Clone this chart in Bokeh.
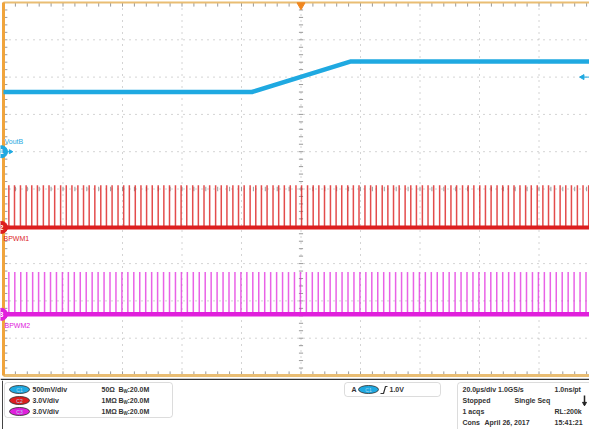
import numpy as np
from bokeh.plotting import figure
from bokeh.models import Range1d, BoxAnnotation
from bokeh.layouts import column
from bokeh.embed import file_html
from bokeh.resources import INLINE
from bokeh.core.properties import value

# ---------------- data ----------------
time_per_div_us = 20.0
n_hdiv = 10
n_vdiv = 10

ch1_name = "VoutB"
ch1_scale_v = 0.5          # V/div
ch1_pos_div = 1.0
ch1_time_us = [-100.0, -16.5, 16.8, 100.0]
ch1_volts = [0.80, 0.80, 1.21, 1.21]

ch2_name = "BPWM1"
ch2_scale_v = 3.0
ch2_pos_div = -1.03
ch2_low_v = 0.0
ch2_high_v = 3.4
ch2_pulse_us = [-98.2, -96.3, -94.3, -92.4, -90.5, -88.6, -86.6, -84.7, -82.8, -80.8,
                -78.9, -77.0, -75.0, -73.1, -71.2, -69.3, -67.3, -65.4, -63.5, -61.5,
                -59.6, -57.7, -55.7, -53.8, -51.9, -50.0, -48.0, -46.1, -44.2, -42.2,
                -40.3, -38.4, -36.4, -34.5, -32.6, -30.7, -28.7, -26.8, -24.9, -22.9,
                -21.0, -19.1, -17.1, -15.2, -13.3, -11.4, -9.4, -7.5, -5.6, -3.6,
                -1.7, 0.2, 2.2, 4.1, 6.0, 7.9, 9.9, 11.8, 13.7, 15.7,
                17.6, 19.5, 21.5, 23.4, 25.3, 27.3, 29.2, 31.1, 33.0, 35.0,
                36.9, 38.8, 40.8, 42.7, 44.6, 46.6, 48.5, 50.4, 52.3, 54.3,
                56.2, 58.1, 60.1, 62.0, 63.9, 65.9, 67.8, 69.7, 71.6, 73.6,
                75.5, 77.4, 79.4, 81.3, 83.2, 85.2, 87.1, 89.0, 90.9, 92.9,
                94.8, 96.7, 98.7]

ch3_name = "BPWM2"
ch3_scale_v = 3.0
ch3_pos_div = -3.36
ch3_low_v = 0.0
ch3_high_v = 3.4
ch3_pulse_us = [-98.2, -96.2, -94.2, -92.2, -90.2, -88.2, -86.2, -84.2, -82.2, -80.2,
                -78.2, -76.2, -74.2, -72.2, -70.2, -68.2, -66.2, -64.2, -62.2, -60.2,
                -58.2, -56.2, -54.2, -52.2, -50.2, -48.2, -46.2, -44.2, -42.2, -40.2,
                -38.2, -36.2, -34.2, -32.2, -30.2, -28.2, -26.2, -24.2, -22.2, -20.2,
                -18.2, -16.2, -14.2, -12.2, -10.2, -8.2, -6.2, -4.2, -2.2, -0.2,
                1.8, 3.8, 5.8, 7.8, 9.8, 11.8, 13.8, 15.8, 17.8, 19.8,
                21.8, 23.8, 25.8, 27.8, 29.8, 31.8, 33.8, 35.8, 37.8, 39.8,
                41.8, 43.8, 45.8, 47.8, 49.8, 51.8, 53.8, 55.8, 57.8, 59.8,
                61.8, 63.8, 65.8, 67.8, 69.8, 71.8, 73.8, 75.8, 77.8, 79.8,
                81.8, 83.8, 85.8, 87.8, 89.8, 91.8, 93.8, 95.8, 97.8, 99.8]

trigger_level_v = 1.0
trigger_time_us = 0.0

chan_badges = ["C1", "C2", "C3"]
chan_scales_txt = ["500mV/div", "3.0V/div", "3.0V/div"]
chan_imped_txt = ["50\u03a9", "1M\u03a9", "1M\u03a9"]
chan_bw_txt = [":20.0M", ":20.0M", ":20.0M"]
trig_txt = ["A", "1.0V"]
acq_left_txt = ["20.0\u00b5s/div  1.0GS/s", "Stopped", "1 acqs", "Cons"]
acq_mid_txt = ["", "Single Seq", "", "April 26, 2017"]
acq_right_txt = ["1.0ns/pt", "", "RL:200k", "15:41:21"]

# ---------------- styling ----------------
BLUE = "#1fa9e1"
RED = "#dc1f1f"
MAG = "#e020dc"
TAN = "#e9bd73"
ORANGE = "#f0a43c"
GRIDC = "#a8a8a8"
TICKC = "#9a9a9a"
FONT = value("Liberation Sans")

W = 589
H_TOP = 380
H_BOT = 49
PX_US = 59.5 / time_per_div_us
PX_DIV = 37.3
x_lo = -100 - 3 / PX_US
x_hi = x_lo + W / PX_US
y_hi = 5 + 2 / PX_DIV
y_lo = y_hi - H_TOP / PX_DIV
T0 = -n_hdiv / 2 * time_per_div_us
T1 = n_hdiv / 2 * time_per_div_us
V0 = -n_vdiv / 2
V1 = n_vdiv / 2

p = figure(width=W, height=H_TOP, x_range=Range1d(x_lo, x_hi), y_range=Range1d(y_lo, y_hi),
           output_backend="svg", toolbar_location=None, min_border=0,
           x_axis_location=None, y_axis_location=None)
p.grid.visible = False
p.outline_line_color = None
p.background_fill_color = "white"
p.border_fill_color = "white"

# graticule
gx = [T0 + time_per_div_us * i for i in range(1, n_hdiv)]
gy = [V0 + i for i in range(1, n_vdiv)]
p.multi_line(xs=[[g, g] for g in gx], ys=[[V0, V1]] * len(gx), line_color=GRIDC,
             line_dash="1 5", line_width=1)
p.multi_line(xs=[[T0, T1]] * len(gy), ys=[[g, g] for g in gy], line_color=GRIDC,
             line_dash="1 5", line_width=1)

minor_t = np.arange(T0, T1 + 0.01, time_per_div_us / 5)
minor_v = np.arange(V0, V1 + 0.01, 0.2)
# ticks on the centre cross
p.segment(x0=minor_t, y0=-0.06, x1=minor_t, y1=0.06, line_color=TICKC, line_width=1)
p.segment(x0=-0.7, y0=minor_v, x1=0.7, y1=minor_v, line_color=TICKC, line_width=1)
# ticks on the frame edges
p.segment(x0=minor_t, y0=V1, x1=minor_t, y1=V1 - 0.11, line_color=TICKC, line_width=1)
p.segment(x0=minor_t, y0=V0, x1=minor_t, y1=V0 + 0.11, line_color=TICKC, line_width=1)
p.segment(x0=T0, y0=minor_v, x1=T0 + 1.3, y1=minor_v, line_color=TICKC, line_width=1)

# frame
p.line([T0, T1], [V1, V1], line_color=TAN, line_width=2)
p.line([T0, T1], [V0, V0], line_color=TAN, line_width=3)
p.line([T0, T0], [V0, V1], line_color=ORANGE, line_width=3)
p.line([x_lo, x_hi], [y_lo + 0.03, y_lo + 0.03], line_color="#333333", line_width=1.5)

# channel 1 trace
ch1_y = [ch1_pos_div + v / ch1_scale_v for v in ch1_volts]
p.line(ch1_time_us, ch1_y, line_color=BLUE, line_width=4.5)

# channel 2 trace
c2b = ch2_pos_div + ch2_low_v / ch2_scale_v
c2t = ch2_pos_div + ch2_high_v / ch2_scale_v
p.segment(x0=ch2_pulse_us, x1=ch2_pulse_us, y0=[c2b] * len(ch2_pulse_us),
          y1=[c2t] * len(ch2_pulse_us), line_color=RED, line_width=1.5, line_alpha=0.8)
p.line([T0, T1], [c2b, c2b], line_color=RED, line_width=4)

# channel 3 trace
c3b = ch3_pos_div + ch3_low_v / ch3_scale_v
c3t = ch3_pos_div + ch3_high_v / ch3_scale_v
p.segment(x0=ch3_pulse_us, x1=ch3_pulse_us, y0=[c3b] * len(ch3_pulse_us),
          y1=[c3t] * len(ch3_pulse_us), line_color=MAG, line_width=1.5, line_alpha=0.7)
p.line([T0, T1], [c3b, c3b], line_color=MAG, line_width=4.5)

# channel ground markers and labels
xm = x_lo + 1 / PX_US
pos = [ch1_pos_div, ch2_pos_div, ch3_pos_div]
cols = [BLUE, RED, MAG]
p.scatter(x=[xm] * 3, y=pos, size=12, fill_color=cols, line_color=cols)
p.text(x=[xm] * 3, y=pos, text=["1", "2", "3"], text_color="white", text_font=FONT,
       text_font_size="7px", text_font_style="bold", text_align="center", text_baseline="middle")
p.segment(x0=[xm + 5 / PX_US], y0=[ch1_pos_div], x1=[xm + 9 / PX_US], y1=[ch1_pos_div],
          line_color=BLUE, line_width=1)
p.scatter(x=[xm + 9 / PX_US], y=[ch1_pos_div], marker="triangle", angle=-np.pi / 2, size=4,
          color=BLUE)
p.text(x=[T0 + 1 / PX_US, T0, T0 + 1 / PX_US],
       y=[ch1_pos_div + 0.27, ch2_pos_div - 0.3, ch3_pos_div - 0.3],
       text=[ch1_name, ch2_name, ch3_name], text_color=cols, text_font=FONT,
       text_font_size="7px", text_baseline="middle")

# trigger markers
p.scatter(x=[trigger_time_us], y=[V1 - 0.07], marker="inverted_triangle", size=8,
          color="#f0861e")
trig_y = ch1_pos_div + trigger_level_v / ch1_scale_v
p.segment(x0=[x_hi - 7 / PX_US], y0=[trig_y], x1=[x_hi], y1=[trig_y], line_color=BLUE,
          line_width=1)
p.scatter(x=[x_hi - 7 / PX_US], y=[trig_y], marker="triangle", angle=np.pi / 2, size=5,
          color=BLUE)

# ---------------- bottom information panel ----------------
b = figure(width=W, height=H_BOT, x_range=Range1d(0, W), y_range=Range1d(H_BOT, 0),
           output_backend="svg", toolbar_location=None, min_border=0,
           x_axis_location=None, y_axis_location=None)
b.grid.visible = False
b.outline_line_color = None
b.background_fill_color = "white"
b.border_fill_color = "white"

b.line([2, 2], [0, H_BOT], line_color="#444444", line_width=1)
box_kw = dict(fill_alpha=0, line_color="#8a8a8a", line_width=1, border_radius=3,
              level="underlay")
b.add_layout(BoxAnnotation(left=4, right=172, top=2, bottom=37, **box_kw))
b.add_layout(BoxAnnotation(left=344, right=440, top=2, bottom=16, **box_kw))
b.add_layout(BoxAnnotation(left=457, right=W + 10, top=2, bottom=H_BOT + 10, **box_kw))

rows = [9, 20, 31]
b.ellipse(x=[19] * 3, y=rows, width=20, height=8, fill_color=cols, line_color="#2a2a2a",
          line_width=0.8)
b.text(x=[19] * 3, y=rows, text=chan_badges, text_color="#b0d8f0", text_font=FONT,
       text_font_size="5px", text_align="center", text_baseline="middle")
tstyle = dict(text_font=FONT, text_font_size="7px", text_font_style="bold",
              text_color="#333333", text_baseline="middle")
b.text(x=[32] * 3, y=rows, text=chan_scales_txt, **tstyle)
b.text(x=[101] * 3, y=rows, text=chan_imped_txt, **tstyle)
b.text(x=[118] * 3, y=rows, text=["B"] * 3, **tstyle)
b.text(x=[123] * 3, y=[r + 2 for r in rows], text=["W"] * 3, text_font=FONT,
       text_font_size="4.5px", text_font_style="bold", text_color="#333333",
       text_baseline="middle")
b.text(x=[127] * 3, y=rows, text=chan_bw_txt, **tstyle)

# trigger box
b.text(x=[351], y=[9], text=[trig_txt[0]], **tstyle)
b.ellipse(x=[368], y=[9], width=20, height=8, fill_color=BLUE, line_color="#2a2a2a",
          line_width=0.8)
b.text(x=[368], y=[9], text=[chan_badges[0]], text_color="#b0d8f0", text_font=FONT,
       text_font_size="5px", text_align="center", text_baseline="middle")
b.line([380, 383, 385, 387], [13, 13, 6, 6], line_color="#333333", line_width=1.2)
b.text(x=[389], y=[9], text=[trig_txt[1]], **tstyle)

# acquisition box
rows4 = [9, 20, 31, 42]
b.text(x=[462] * 4, y=rows4, text=acq_left_txt, **tstyle)
b.text(x=[514, 514, 514, 484], y=rows4, text=acq_mid_txt, **tstyle)
b.text(x=[554] * 4, y=rows4, text=acq_right_txt, **tstyle)
b.line([584, 584], [15, 22], line_color="#222222", line_width=1.5)
b.scatter(x=[584], y=[23], marker="inverted_triangle", size=4, color="#222222")

layout = column(p, b, spacing=0)
open("out.html", "w").write(file_html(layout, INLINE))
